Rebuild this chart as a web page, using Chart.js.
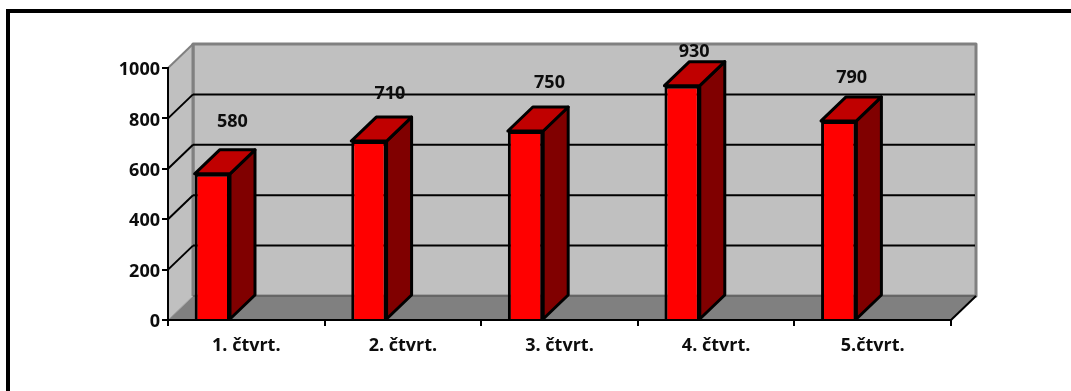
<!DOCTYPE html>
<html lang="en">
<head>
    <meta charset="UTF-8">
    <title>Čtvrtletí</title>
    <style>
        html, body {
            margin: 0;
            padding: 0;
            background: #fff;
            overflow: hidden;
        }
        .frame {
            position: absolute;
            left: 6px;
            top: 9px;
            right: 0;
            bottom: 0;
            border-left: 4px solid #000;
            border-top: 4px solid #000;
        }
        canvas {
            position: absolute;
            left: 0;
            top: 0;
        }
    </style>
    <script src="https://cdn.jsdelivr.net/npm/chart.js"></script>
</head>
<body>
    <div class="frame"></div>
    <canvas id="quarterChart" width="1071" height="391"></canvas>

    <script>
        const categories = ['1. čtvrt.', '2. čtvrt.', '3. čtvrt.', '4. čtvrt.', '5.čtvrt.'];
        const seriesValues = [580, 710, 750, 930, 790];
        // empty second series, it keeps the bars on the left half of each category
        const emptySeries = [null, null, null, null, null];
        const yTicks = [0, 200, 400, 600, 800, 1000];

        // labels were placed by hand, so each has its own shift from the bar top
        const labelShiftX = [20, 21, 24, 12, 13];
        const labelShiftY = [52, 47, 48, 34, 43];

        // 3D offset of the back wall, px
        const depthX = 25;
        const depthY = 24;

        function poly(ctx, pts, fill, stroke, width) {
            ctx.beginPath();
            pts.forEach((p, i) => i ? ctx.lineTo(p[0], p[1]) : ctx.moveTo(p[0], p[1]));
            ctx.closePath();
            if (fill) {
                ctx.fillStyle = fill;
                ctx.fill();
            }
            if (stroke) {
                ctx.strokeStyle = stroke;
                ctx.lineWidth = width;
                ctx.lineJoin = 'round';
                ctx.stroke();
            }
        }

        function line(ctx, x1, y1, x2, y2, color, width) {
            ctx.beginPath();
            ctx.moveTo(x1, y1);
            ctx.lineTo(x2, y2);
            ctx.strokeStyle = color;
            ctx.lineWidth = width;
            ctx.stroke();
        }

        // Walls, floor and grid of the 3D box
        const boxPlugin = {
            id: 'box',
            beforeDraw(chart) {
                const ctx = chart.ctx;
                const a = chart.chartArea;
                const y = chart.scales.y;
                const backL = a.left + depthX;
                const backR = a.right + depthX;
                const backT = a.top - depthY;
                const backB = a.bottom - depthY;
                ctx.save();
                // back wall
                poly(ctx, [[backL, backT], [backR, backT], [backR, backB], [backL, backB]], '#c0c0c0', '#808080', 3);
                // side wall
                poly(ctx, [[a.left, a.top], [backL, backT], [backL, backB], [a.left, a.bottom]], '#c0c0c0');
                line(ctx, a.left, a.top, backL, backT, '#808080', 2);
                line(ctx, backL, backT, backL, backB, '#808080', 3);
                // floor
                poly(ctx, [[a.left, a.bottom], [backL, backB], [backR, backB], [a.right, a.bottom]], '#808080');
                line(ctx, backL, backB, backR, backB, '#666', 2);
                line(ctx, a.left, a.bottom, backL, backB, '#a0a0a0', 1);
                line(ctx, a.right, a.bottom, backR, backB, '#000', 2);
                // grid lines around the corner of the box
                y.ticks.forEach(t => {
                    if (t.value === 0 || t.value === 1000) return;
                    const py = y.getPixelForValue(t.value);
                    line(ctx, a.left, py, backL, py - depthY, '#000', 2);
                    line(ctx, backL, py - depthY, backR - 1, py - depthY, '#000', 2);
                });
                ctx.restore();
            },
            // side and top face of every bar, behind the red front from the dataset
            beforeDatasetsDraw(chart) {
                const ctx = chart.ctx;
                ctx.save();
                chart.getDatasetMeta(0).data.forEach(bar => {
                    const l = bar.x - bar.width / 2;
                    const r = bar.x + bar.width / 2;
                    poly(ctx, [[r, bar.y], [r + depthX, bar.y - depthY], [r + depthX, bar.base - depthY], [r, bar.base]],
                        '#800000', '#000', 3);
                    poly(ctx, [[l, bar.y], [l + depthX, bar.y - depthY], [r + depthX, bar.y - depthY], [r, bar.y]],
                        '#c00000', '#000', 3);
                });
                ctx.restore();
            },
            // value labels
            afterDatasetsDraw(chart) {
                const ctx = chart.ctx;
                ctx.save();
                ctx.font = 'bold 18px "Open Sans"';
                ctx.fillStyle = '#0d0d0d';
                ctx.textAlign = 'center';
                ctx.textBaseline = 'middle';
                chart.getDatasetMeta(0).data.forEach((bar, i) => {
                    ctx.fillText(seriesValues[i], bar.x + labelShiftX[i], bar.y - labelShiftY[i]);
                });
                ctx.restore();
            }
        };

        const ctx = document.getElementById('quarterChart').getContext('2d');
        new Chart(ctx, {
            type: 'bar',
            data: {
                labels: categories,
                datasets: [{
                    data: seriesValues,
                    backgroundColor: '#ff0000',
                    borderColor: '#000',
                    borderWidth: 3,
                    categoryPercentage: 0.868,
                    barPercentage: 0.52
                }, {
                    data: emptySeries,
                    categoryPercentage: 0.868,
                    barPercentage: 0.52
                }]
            },
            options: {
                responsive: false,
                animation: false,
                layout: {
                    padding: { top: 68, right: 120 }
                },
                plugins: {
                    legend: { display: false },
                    tooltip: { enabled: false }
                },
                scales: {
                    x: {
                        afterFit(scale) { scale.height = 71; },
                        border: { color: '#000', width: 2 },
                        grid: {
                            drawOnChartArea: false,
                            color: '#000',
                            lineWidth: 2,
                            tickLength: 6
                        },
                        ticks: {
                            color: '#0d0d0d',
                            font: { family: 'Open Sans', weight: 'bold', size: 18 },
                            maxRotation: 0,
                            padding: 9
                        }
                    },
                    y: {
                        min: 0,
                        max: 1000,
                        afterFit(scale) { scale.width = 168; },
                        afterBuildTicks(scale) {
                            scale.ticks = yTicks.map(v => ({ value: v }));
                        },
                        border: { color: '#000', width: 2 },
                        grid: {
                            drawOnChartArea: false,
                            color: '#000',
                            lineWidth: 2,
                            tickLength: 6
                        },
                        ticks: {
                            color: '#0d0d0d',
                            font: { family: 'Open Sans', weight: 'bold', size: 18 },
                            padding: 2,
                            labelOffset: 2,
                            callback: v => String(v)
                        }
                    }
                }
            },
            plugins: [boxPlugin]
        });
    </script>
</body>
</html>
